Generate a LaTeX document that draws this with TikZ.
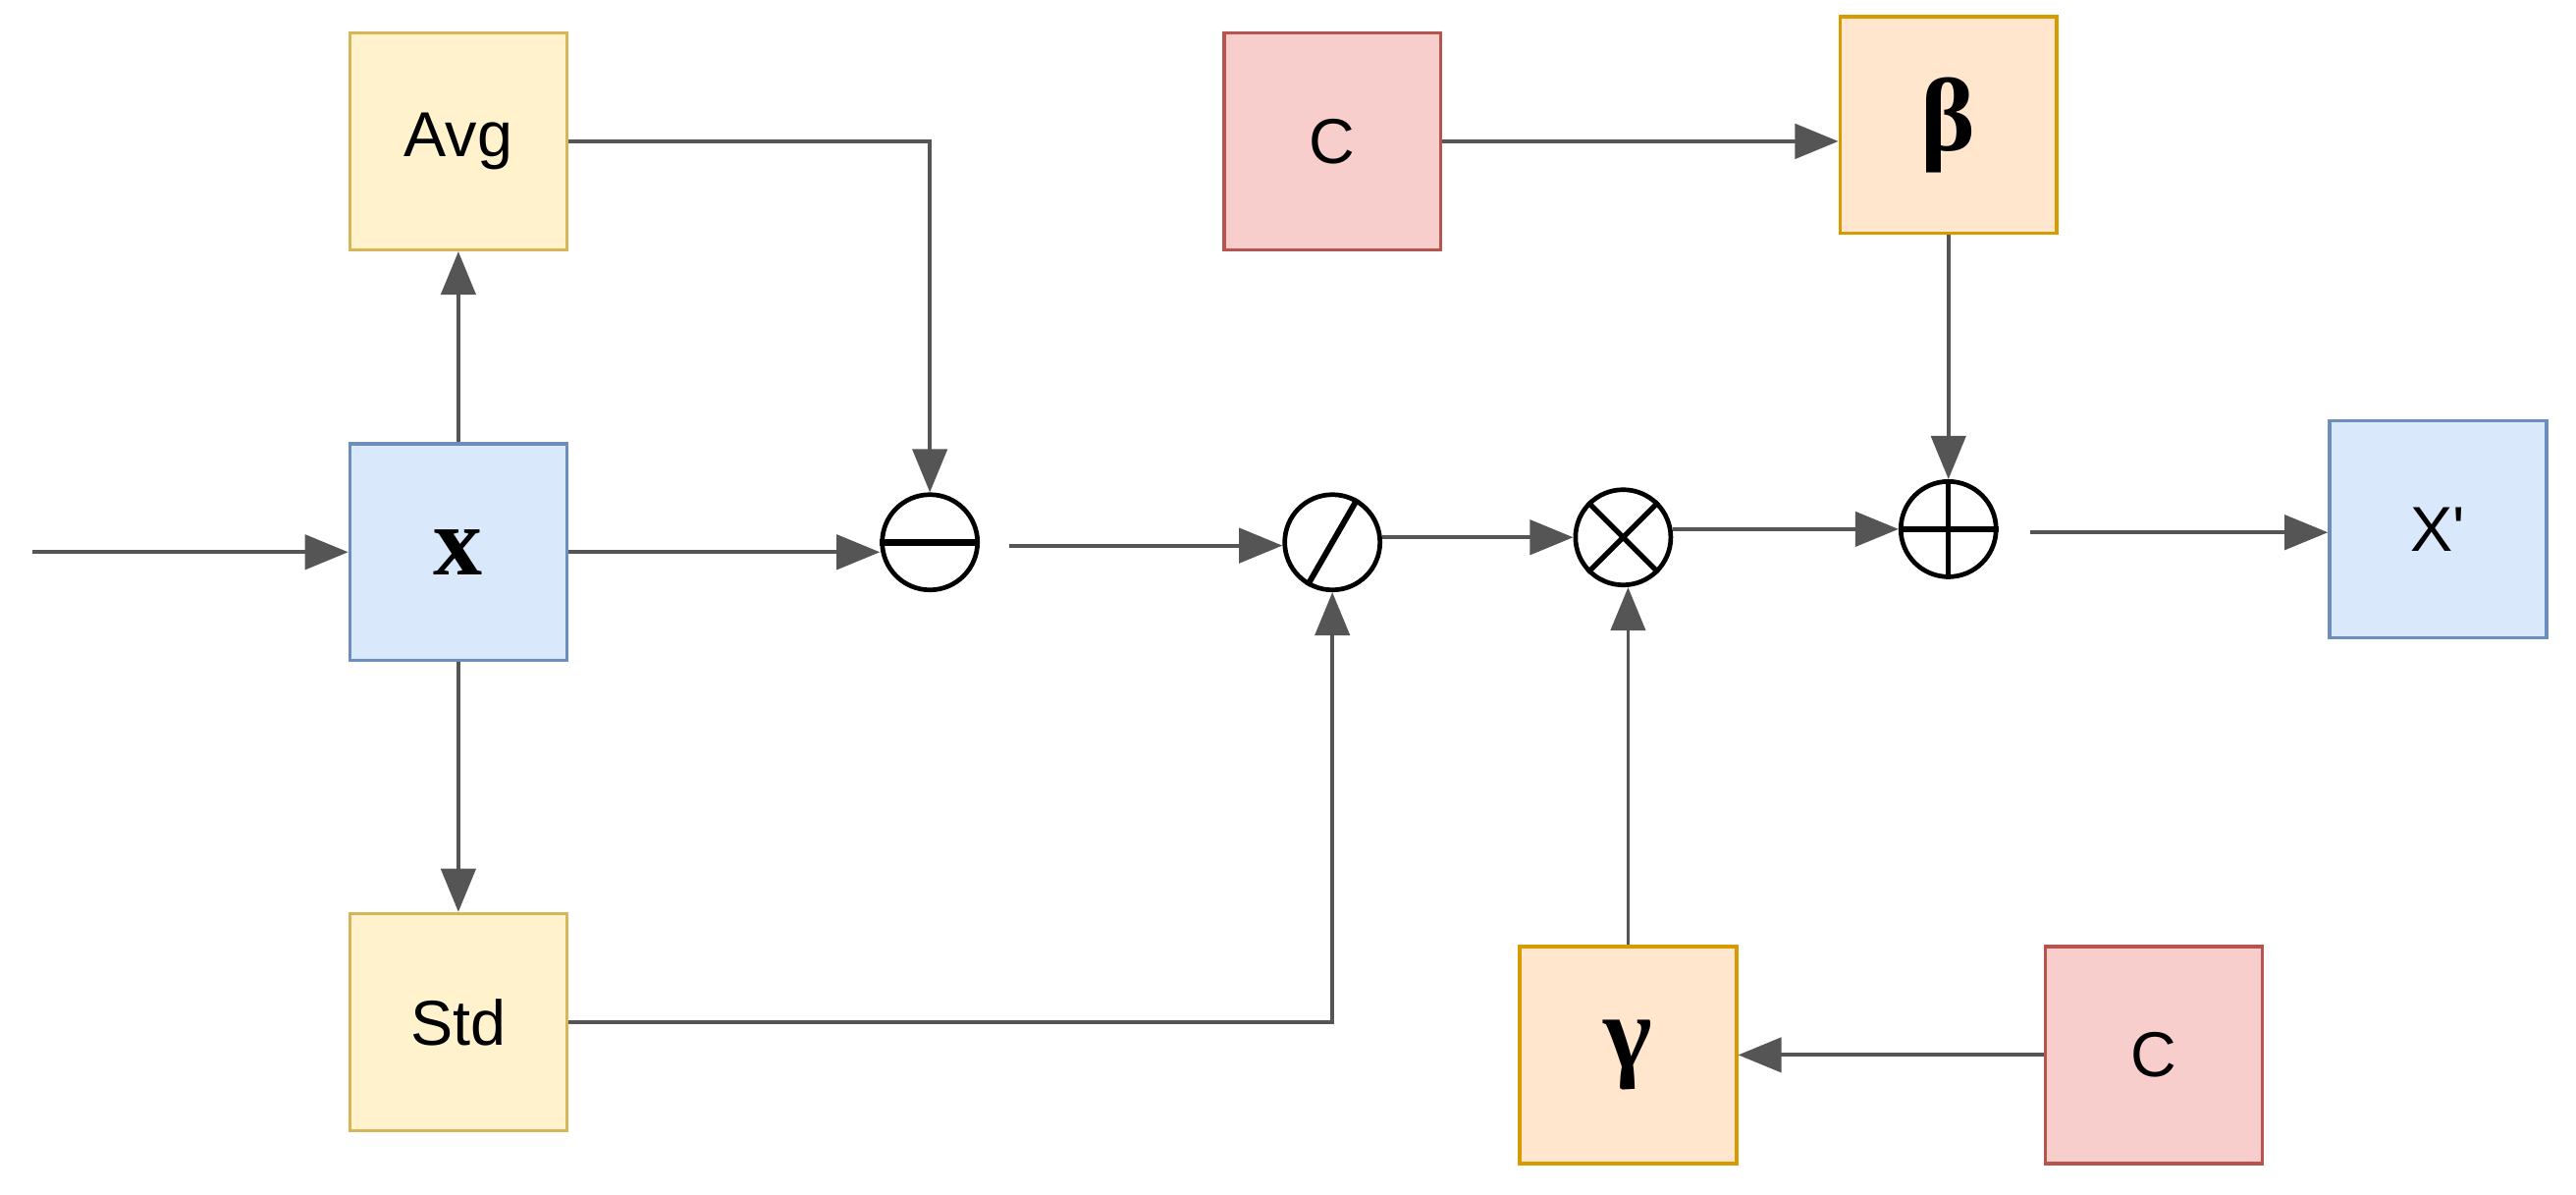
\documentclass[tikz,border=0pt]{standalone}
\usepackage{fontspec}
\setmainfont{Liberation Sans}
\newfontfamily\serifx{Liberation Serif}
\usetikzlibrary{arrows.meta}
\definecolor{yf}{HTML}{FFF2CC}\definecolor{yd}{HTML}{D6B656}
\definecolor{bf}{HTML}{DAE8FC}\definecolor{bd}{HTML}{6C8EBF}
\definecolor{of}{HTML}{FFE6CC}\definecolor{od}{HTML}{D79B00}
\definecolor{rf}{HTML}{F8CECC}\definecolor{rd}{HTML}{B85450}
\definecolor{ln}{HTML}{555555}
\begin{document}
\begin{tikzpicture}[x=0.02cm,y=-0.02cm,
 box/.style={draw,line width=1.2pt,minimum width=2.64cm,minimum height=2.64cm,inner sep=0pt,font=\fontsize{22}{24}\selectfont},
 yb/.style={box,fill=yf,draw=yd},
 bb/.style={box,fill=bf,draw=bd},
 ob/.style={box,fill=of,draw=od},
 rb/.style={box,fill=rf,draw=rd},
 op/.style={circle,draw,line width=1.6pt,minimum size=1.16cm,inner sep=0pt},
 ar/.style={draw=ln,line width=1.3pt,-{Triangle[length=15pt,width=12pt]}}]
\useasboundingbox (0,0) rectangle (1568,727);
\node[yb] (avg) at (279,86) {Avg};
\node[bb,font=\serifx\bfseries\fontsize{34}{36}\selectfont] (x) at (279,336) {x};
\node[yb] (std) at (279,622) {Std};
\node[rb] (c1) at (811,86) {C};
\node[ob,font=\serifx\bfseries\fontsize{36}{38}\selectfont] (beta) at (1186,76) {β};
\node[ob,font=\serifx\bfseries\fontsize{36}{38}\selectfont] (gamma) at (991,642) {γ};
\node[rb] (c2) at (1311,642) {C};
\node[bb] (xp) at (1484,322) {X\textquotesingle};
\node[op] (m) at (566,330) {};
\draw[line width=2.4pt] (m.west) -- (m.east);
\node[op] (d) at (811,330) {};
\draw[line width=2pt] (d.-120) -- (d.60);
\node[op] (t) at (988,327) {};
\draw[line width=1.8pt] (t.45) -- (t.-135) (t.135) -- (t.-45);
\node[op] (p) at (1186,322) {};
\draw[line width=1.8pt] (p.west) -- (p.east) (p.north) -- (p.south);
\coordinate (in) at (20,336);
\coordinate (m2) at (614,332);
\coordinate (p2) at (1236,324);
\draw[ar] (in) -- (x);
\draw[ar] (x) -- (avg);
\draw[ar] (x) -- (std);
\draw[ar] (x.east) -- (m.west |- x.east);
\draw[ar] (avg.east) -| (m.north);
\draw[ar] (m2) -- (d.west |- m2);
\draw[ar] (std.east) -| (d.south);
\draw[ar] (d.east |- t.west) -- (t.west);
\draw[ar] (gamma.north) -- (gamma.north |- t.south);
\draw[ar] (c2) -- (gamma);
\draw[ar] (t.east |- p.west) -- (p.west);
\draw[ar] (c1.east) -- (beta.west |- c1.east);
\draw[ar] (beta) -- (p.north);
\draw[ar] (p2) -- (xp.west |- p2);
\end{tikzpicture}
\end{document}
